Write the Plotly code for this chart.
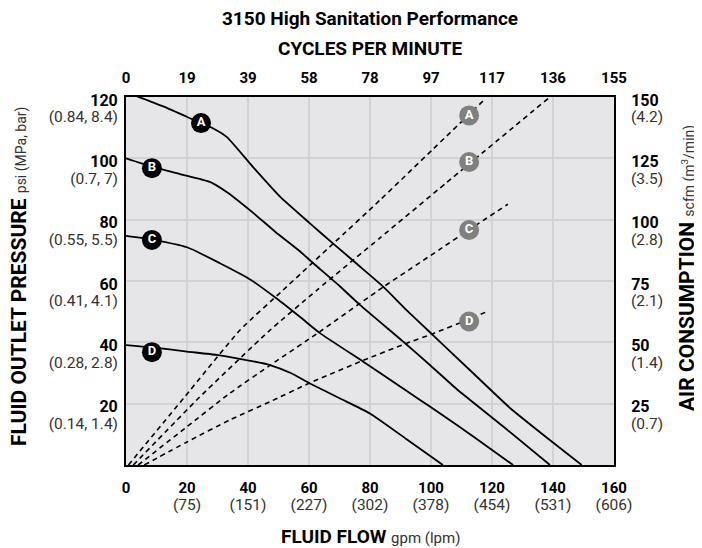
import plotly.graph_objects as go

# axis ticks and labels
FLOW_TICKS = [0, 20, 40, 60, 80, 100, 120, 140, 160]
LPM_LABELS = ["", "75", "151", "227", "302", "378", "454", "531", "606"]
CPM_LABELS = ["0", "19", "39", "58", "78", "97", "117", "136", "155"]
PSI_TICKS = [20, 40, 60, 80, 100, 120]
PSI_METRIC = ["0.14, 1.4", "0.28, 2.8", "0.41, 4.1", "0.55, 5.5", "0.7, 7", "0.84, 8.4"]
SCFM_TICKS = [25, 50, 75, 100, 125, 150]
SCFM_METRIC = ["0.7", "1.4", "2.1", "2.8", "3.5", "4.2"]

# fluid outlet pressure curves (gpm, psi)
A_FLOW = [0, 12, 24.6, 27.5, 33, 41.6, 50.5, 60.3, 68.5, 76.5, 84.4, 92, 100.8, 112.8, 125.9, 138, 149.4]
A_PSI = [121.6, 117, 111.5, 110.3, 107, 97.2, 87.5, 78.8, 71.7, 64.9, 58.1, 50.5, 42.2, 30.9, 18.6, 8.9, 0]
B_FLOW = [0, 8.5, 18, 27.5, 33, 41.7, 49, 57, 61.4, 70.2, 76.7, 91.5, 100, 108.4, 124, 139]
B_PSI = [100, 97.3, 94.8, 92.3, 89, 82.2, 76, 69.7, 65.8, 58.2, 52.2, 39.7, 32.3, 24.8, 12.3, 0]
C_FLOW = [0, 8.5, 20, 30.8, 40.7, 49.5, 57.4, 63.6, 77.8, 90, 96.4, 103, 115, 126.9]
C_PSI = [74.7, 73.5, 71, 65.8, 60.5, 54.2, 48, 43, 33.7, 25.5, 21.2, 16.8, 8.5, 0]
D_FLOW = [0, 10, 20, 29.7, 36.4, 47.2, 54, 60.3, 70.2, 80, 92, 103.9]
D_PSI = [39.1, 38.2, 37, 35.9, 34.8, 32.6, 30, 26.6, 21.7, 16.8, 8.4, 0]

# air consumption curves (gpm, scfm)
AA_FLOW = [0.8, 19, 37.4, 51.5, 67.9, 83.3, 100.7, 117]
AA_SCFM = [0, 27.4, 55, 71.3, 90.2, 108, 128.8, 148.3]
AB_FLOW = [2.4, 24, 46.7, 62.6, 83.3, 105, 139]
AB_SCFM = [0, 27.5, 54.4, 71.3, 92.6, 115, 150]
AC_FLOW = [4, 20, 34.1, 47.2, 63.6, 84.4, 103, 112.6, 125.2]
AC_SCFM = [0, 15.6, 29.3, 40.6, 54.4, 72.6, 88, 96, 106.3]
AD_FLOW = [6, 20, 34.1, 47.2, 60, 76.7, 92, 100.8, 112.8, 118.3]
AD_SCFM = [0, 9.4, 18.4, 25.8, 33.3, 42.1, 49.6, 53.6, 59.6, 62.5]

# curve tags
TAGS = ["A", "B", "C", "D"]
PSI_TAG_FLOW = [24.6, 8.5, 8.5, 8.5]
PSI_TAG_PSI = [111.5, 96.8, 73.4, 36.8]
AIR_TAG_FLOW = [112.5, 112.5, 112.5, 112.5]
AIR_TAG_SCFM = [142.5, 123.5, 95.8, 58.5]

FONT = "Roboto, Arial, sans-serif"
BG = "#e6e6e8"
GRID = "#d2d2d4"
SUB = "#333333"

# the page has an 8px body margin, so plot box 126..614 x 97..465 on screen
W, H = 702, 548
PAGE_OFF = 8
L, R, T, B = 126, 614, 97, 465
PW, PH = R - L, B - T


def px(xp):
    return (xp - L) / PW


def py(yp):
    return (B - yp) / PH


fig = go.Figure()

for fx, fy in [(A_FLOW, A_PSI), (B_FLOW, B_PSI), (C_FLOW, C_PSI), (D_FLOW, D_PSI)]:
    fig.add_trace(go.Scatter(x=fx, y=fy, mode="lines",
                             line=dict(color="black", width=1.8, shape="spline", smoothing=0.5),
                             showlegend=False, hoverinfo="skip"))

for fx, fy in [(AA_FLOW, AA_SCFM), (AB_FLOW, AB_SCFM), (AC_FLOW, AC_SCFM), (AD_FLOW, AD_SCFM)]:
    fig.add_trace(go.Scatter(x=fx, y=fy, yaxis="y2", mode="lines",
                             line=dict(color="black", width=1.6, dash="5px,4px", shape="spline", smoothing=0.5),
                             showlegend=False, hoverinfo="skip"))

fig.add_trace(go.Scatter(x=PSI_TAG_FLOW, y=PSI_TAG_PSI, mode="markers+text", text=TAGS,
                         marker=dict(size=20, color="black"), textposition="middle center",
                         textfont=dict(family=FONT, size=13, color="white", weight="bold"),
                         showlegend=False, hoverinfo="skip"))
fig.add_trace(go.Scatter(x=AIR_TAG_FLOW, y=AIR_TAG_SCFM, yaxis="y2", mode="markers+text", text=TAGS,
                         marker=dict(size=20, color="#808080"), textposition="middle center",
                         textfont=dict(family=FONT, size=13, color="white", weight="bold"),
                         showlegend=False, hoverinfo="skip"))

# invisible traces so the extra label axes get drawn
fig.add_trace(go.Scatter(x=[0, 160], y=[0, 120], xaxis="x2", yaxis="y3", mode="markers",
                         marker=dict(opacity=0), showlegend=False, hoverinfo="skip"))
fig.add_trace(go.Scatter(x=[0, 160], y=[0, 150], xaxis="x3", yaxis="y4", mode="markers",
                         marker=dict(opacity=0), showlegend=False, hoverinfo="skip"))

flow_text = [f"<b>{v}</b>" for v in FLOW_TICKS]
lpm_text = [f"({m})" if m else "" for m in LPM_LABELS]
psi_text = [f"<b>{v}</b>" for v in PSI_TICKS]
psi_sub = [f"({m})" for m in PSI_METRIC]
scfm_text = [f"<b>{v}</b>" for v in SCFM_TICKS]
scfm_sub = [f"({m})" for m in SCFM_METRIC]
cpm_text = [f"<b>{c}</b>" for c in CPM_LABELS]

axis_common = dict(ticks="", zeroline=False, automargin=False)
frame = dict(showline=True, linecolor="black", linewidth=2)
sub_font = dict(size=15.5, color=SUB)

fig.update_layout(
    width=W, height=H,
    margin=dict(l=L - PAGE_OFF, r=W - R + PAGE_OFF, t=T - PAGE_OFF, b=H - B + PAGE_OFF),
    paper_bgcolor="white", plot_bgcolor=BG,
    font=dict(family=FONT, size=16, color="black"),
    title=dict(text="<b>3150 High Sanitation Performance</b>", x=px(370), xref="paper", xanchor="center",
               y=1 - (18 - PAGE_OFF) / H, yref="container", yanchor="middle",
               font=dict(size=19, color="black")),
    xaxis=dict(range=[0, 160], tickvals=FLOW_TICKS, ticktext=flow_text, mirror=True,
               showgrid=True, gridcolor=GRID, gridwidth=1.5, tickfont=dict(size=15),
               ticklabelstandoff=8, **frame, **axis_common),
    xaxis2=dict(range=[0, 160], overlaying="x", side="top", anchor="y", tickvals=FLOW_TICKS,
                ticktext=cpm_text, showgrid=False, tickfont=dict(size=15), ticklabelstandoff=6,
                **frame, **axis_common),
    xaxis3=dict(range=[0, 160], overlaying="x", side="bottom", anchor="y", tickvals=FLOW_TICKS,
                ticktext=lpm_text, showgrid=False, showline=False, tickfont=sub_font,
                ticklabelstandoff=28, **axis_common),
    yaxis=dict(range=[0, 120], tickvals=PSI_TICKS, ticktext=psi_text, mirror=True,
               showgrid=True, gridcolor=GRID, gridwidth=1.5, tickfont=dict(size=16),
               ticklabelshift=3, ticklabelstandoff=3, **frame, **axis_common),
    yaxis2=dict(range=[0, 150], overlaying="y", side="right", anchor="x", tickvals=SCFM_TICKS,
                ticktext=scfm_text, showgrid=False, tickfont=dict(size=16), ticklabelshift=3,
                ticklabelstandoff=12, **frame, **axis_common),
    yaxis3=dict(range=[0, 120], overlaying="y", side="left", anchor="x", tickvals=PSI_TICKS,
                ticktext=psi_sub, showgrid=False, showline=False, tickfont=sub_font,
                ticklabelshift=20, ticklabelstandoff=7, **axis_common),
    yaxis4=dict(range=[0, 150], overlaying="y", side="right", anchor="x", tickvals=SCFM_TICKS,
                ticktext=scfm_sub, showgrid=False, showline=False, tickfont=sub_font,
                ticklabelshift=20, ticklabelstandoff=16, **axis_common),
)

# axis titles
fig.add_annotation(text="<b>CYCLES PER MINUTE</b>", xref="paper", yref="paper", x=px(370), y=py(48),
                   showarrow=False, font=dict(size=19, color="black"), yanchor="middle")
fig.add_annotation(text=f"<b>FLUID FLOW</b> <span style='font-size:15px;color:{SUB}'>gpm (lpm)</span>",
                   xref="paper", yref="paper", x=px(370), y=py(536),
                   showarrow=False, font=dict(size=19, color="black"), yanchor="middle")
fig.add_annotation(text=f"<b>FLUID OUTLET PRESSURE</b> <span style='font-size:14px;color:{SUB}'>psi (MPa, bar)</span>",
                   xref="paper", yref="paper", x=px(19), y=py(277), textangle=-90,
                   showarrow=False, font=dict(size=21, color="black"), xanchor="center", yanchor="middle")
fig.add_annotation(text=f"<b>AIR CONSUMPTION</b> <span style='font-size:14px;color:{SUB}'>scfm (m<sup>3</sup>/min)</span>",
                   xref="paper", yref="paper", x=px(687), y=py(268), textangle=-90,
                   showarrow=False, font=dict(size=21, color="black"), xanchor="center", yanchor="middle")

fig.write_html("out.html")
